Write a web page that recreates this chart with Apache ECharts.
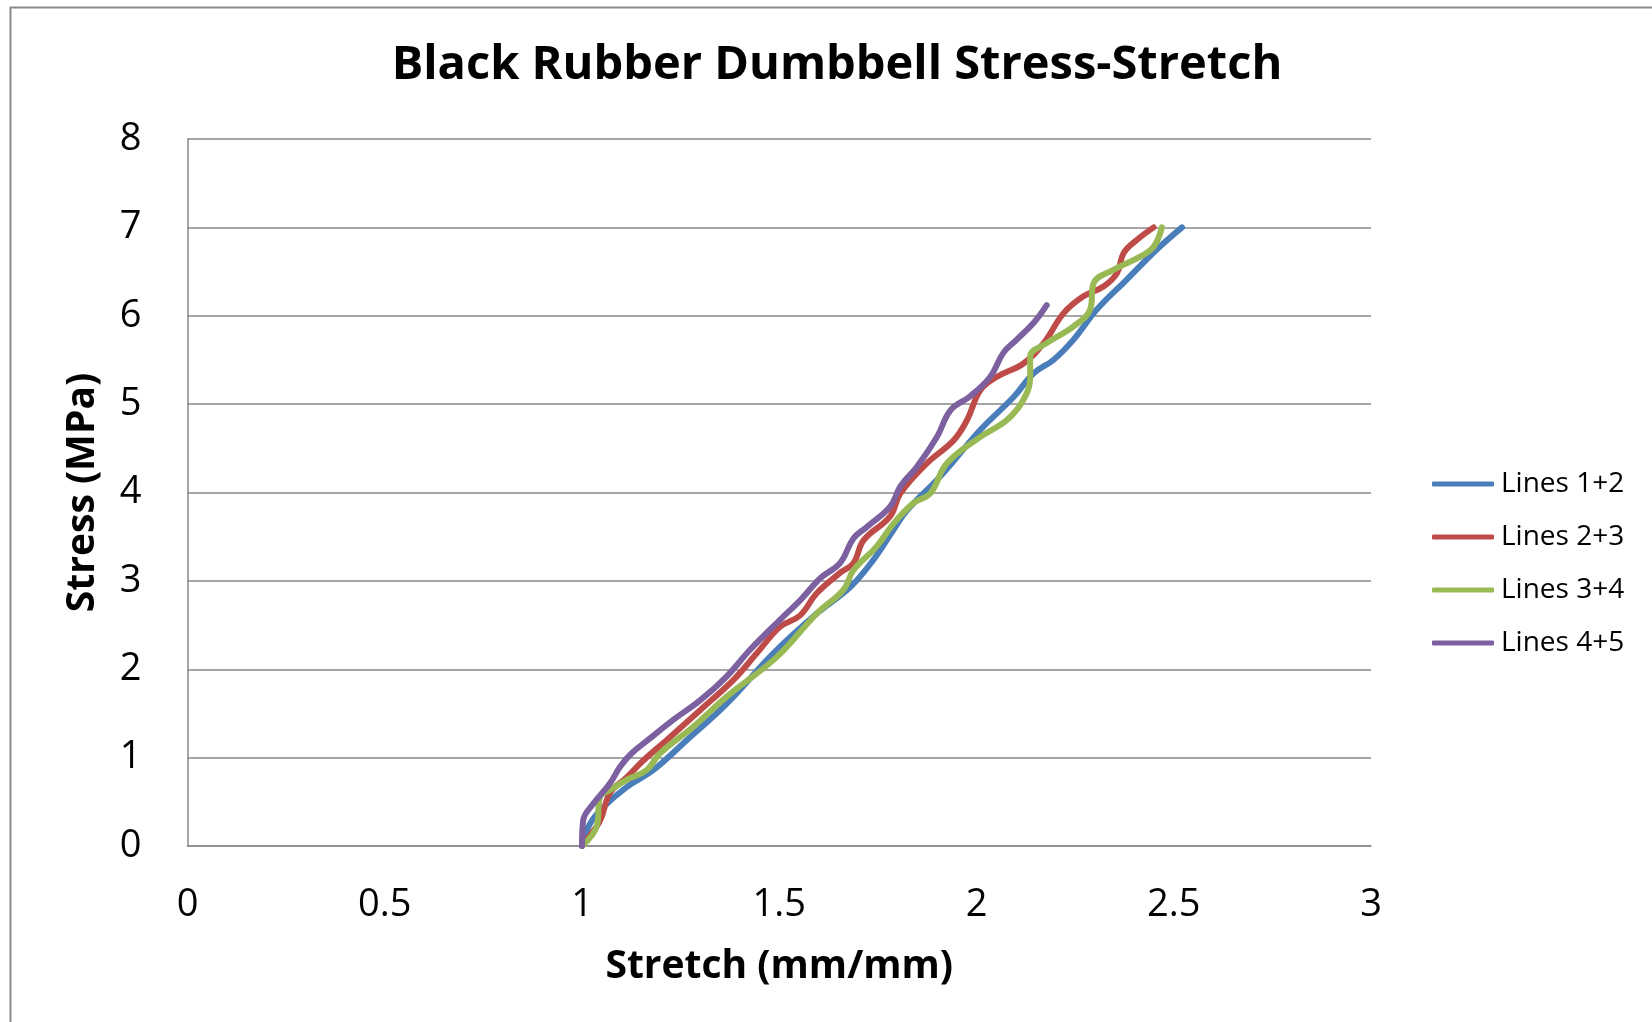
<!DOCTYPE html>
<html>
<head>
<meta charset="utf-8">
<script src="https://cdn.jsdelivr.net/npm/echarts@6/dist/echarts.min.js"></script>
<style>
  html, body { margin: 0; padding: 0; background: #fff; }
  #chart { width: 1652px; height: 1022px; }
</style>
</head>
<body>
<div id="chart"></div>
<script>
// stretch (mm/mm), stress (MPa) pairs
var lines12 = [[1, 0], [1.02, 0.25], [1.054, 0.44], [1.114, 0.67], [1.181, 0.86], [1.266, 1.2], [1.367, 1.61], [1.485, 2.18],
  [1.595, 2.63], [1.68, 2.93], [1.739, 3.24], [1.79, 3.58], [1.824, 3.8], [1.908, 4.18], [2.01, 4.71], [2.094, 5.08],
  [2.145, 5.35], [2.195, 5.5], [2.246, 5.73], [2.305, 6.07], [2.381, 6.41], [2.457, 6.75], [2.521, 7.0]];
var lines23 = [[1, 0], [1.012, 0.07], [1.046, 0.29], [1.071, 0.6], [1.114, 0.78], [1.156, 0.97], [1.215, 1.2], [1.3, 1.54],
  [1.384, 1.88], [1.443, 2.18], [1.502, 2.48], [1.553, 2.61], [1.595, 2.86], [1.654, 3.09], [1.688, 3.2], [1.714, 3.46],
  [1.781, 3.73], [1.807, 3.99], [1.874, 4.33], [1.942, 4.59], [1.976, 4.82], [2.01, 5.16], [2.052, 5.31], [2.119, 5.46],
  [2.17, 5.69], [2.221, 6.03], [2.271, 6.22], [2.322, 6.33], [2.356, 6.48], [2.373, 6.71], [2.407, 6.86], [2.449, 7.0]];
var lines34 = [[1, 0], [1.037, 0.22], [1.046, 0.56], [1.07, 0.63], [1.114, 0.75], [1.164, 0.86], [1.198, 1.05], [1.282, 1.35],
  [1.367, 1.69], [1.494, 2.14], [1.595, 2.63], [1.663, 2.9], [1.688, 3.12], [1.747, 3.39], [1.79, 3.65], [1.84, 3.88],
  [1.883, 3.99], [1.925, 4.33], [2.01, 4.63], [2.077, 4.82], [2.119, 5.05], [2.136, 5.3], [2.136, 5.54], [2.178, 5.69],
  [2.246, 5.88], [2.288, 6.07], [2.297, 6.37], [2.347, 6.52], [2.415, 6.67], [2.449, 6.78], [2.47, 7.0]];
var lines45 = [[1, 0], [1.003, 0.29], [1.029, 0.48], [1.071, 0.71], [1.097, 0.9], [1.126, 1.05], [1.173, 1.22], [1.232, 1.43],
  [1.3, 1.65], [1.367, 1.92], [1.426, 2.22], [1.502, 2.56], [1.553, 2.78], [1.604, 3.03], [1.654, 3.2], [1.688, 3.48],
  [1.722, 3.61], [1.781, 3.84], [1.807, 4.07], [1.849, 4.29], [1.9, 4.63], [1.934, 4.93], [1.984, 5.09], [2.035, 5.31],
  [2.068, 5.58], [2.102, 5.73], [2.145, 5.92], [2.178, 6.12]];

var seriesNames = ['Lines 1+2', 'Lines 2+3', 'Lines 3+4', 'Lines 4+5'];
var seriesData = [lines12, lines23, lines34, lines45];
var colors = ['#4a7ebb', '#be4b48', '#98b954', '#7d60a0'];

var chartDom = document.getElementById('chart');
var myChart = echarts.init(chartDom);
var font = 'Open Sans';

var option = {
  animation: false,
  color: colors,
  title: {
    text: 'Black Rubber Dumbbell Stress-Stretch',
    left: 832,
    textAlign: 'center',
    top: 37,
    textStyle: { fontFamily: font, fontWeight: 'bold', fontSize: 47, color: '#000' }
  },
  legend: {
    orient: 'vertical',
    left: 1427,
    top: 465,
    itemWidth: 62,
    itemHeight: 5,
    itemGap: 25,
    icon: 'roundRect',
    data: seriesNames,
    textStyle: { fontFamily: font, fontSize: 28, color: '#000', padding: [0, 0, 0, 2] }
  },
  grid: { left: 187.5, right: 281, top: 139, bottom: 176 },
  xAxis: {
    type: 'value',
    min: 0, max: 3, interval: 0.5,
    name: 'Stretch (mm/mm)',
    nameLocation: 'middle',
    nameGap: 101,
    nameTextStyle: { fontFamily: font, fontWeight: 'bold', fontSize: 39, color: '#000' },
    axisLine: { show: true, lineStyle: { color: '#898989', width: 1.5 } },
    axisTick: { show: false },
    axisLabel: { fontFamily: font, fontSize: 38, color: '#000', margin: 40 },
    splitLine: { show: false }
  },
  yAxis: {
    type: 'value',
    min: 0, max: 8, interval: 1,
    name: 'Stress (MPa)',
    nameLocation: 'middle',
    nameGap: 85,
    nameTextStyle: { fontFamily: font, fontWeight: 'bold', fontSize: 39, color: '#000' },
    axisLine: { show: true, lineStyle: { color: '#898989', width: 1.5 } },
    axisTick: { show: false },
    axisLabel: { fontFamily: font, fontSize: 38, color: '#000', margin: 46 },
    splitLine: { show: true, lineStyle: { color: '#898989', width: 1.5 } }
  },
  graphic: [{
    type: 'rect',
    shape: { x: 10.5, y: 7.5, width: 1700, height: 1100 },
    style: { fill: null, stroke: '#8a8a8a', lineWidth: 2 },
    z: -1
  }],
  series: seriesData.map(function (d, i) {
    return {
      name: seriesNames[i],
      type: 'line',
      data: d,
      smooth: 0.4,
      showSymbol: false,
      lineStyle: { width: 6, color: colors[i], cap: 'round' }
    };
  })
};

option && myChart.setOption(option);
</script>
</body>
</html>
